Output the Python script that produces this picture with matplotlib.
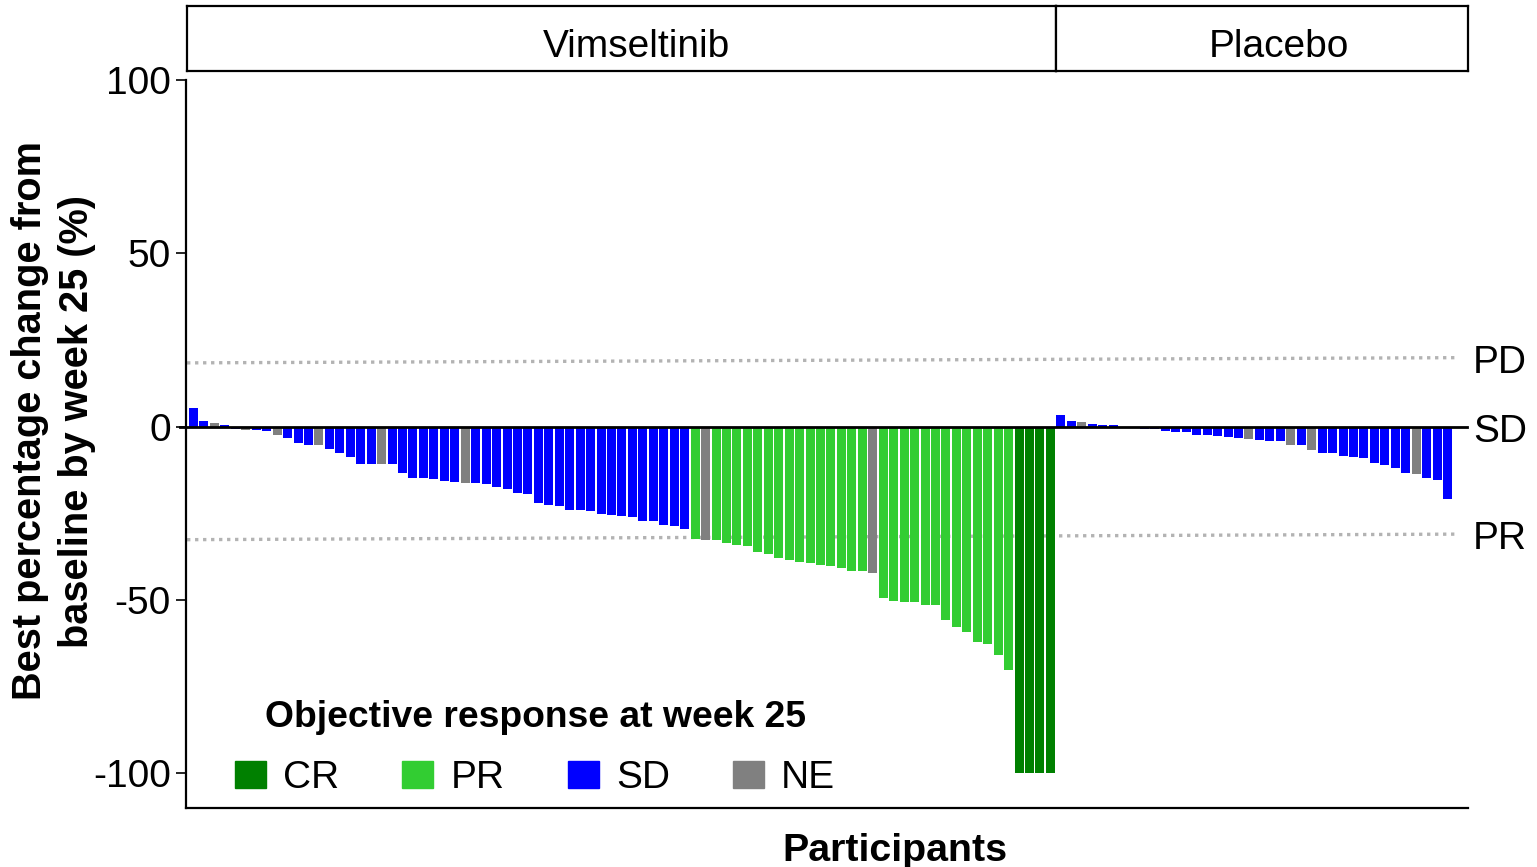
# Waterfall plot: best percentage change from baseline by week 25
# Vimseltinib vs Placebo, bars coloured by objective response at week 25
#
# exports the figure as out.png

import matplotlib
matplotlib.use("Agg")  # no display
import matplotlib.pyplot as plt
import matplotlib.patches as mpatches
import matplotlib.transforms as mtransforms

plt.rcParams['font.family'] = ['Liberation Sans', 'DejaVu Sans']

# ----------- Data -------------
# best % change per participant (sorted)
vim_change = [
    5.4, 1.6, 1.1, 0.6, -0.6, -1.0, -1.0, -1.3, -2.4, -3.3,
    -4.7, -5.3, -5.3, -6.5, -7.6, -8.8, -10.8, -10.8, -10.8, -10.8,
    -13.4, -14.8, -14.8, -15.1, -15.7, -16.0, -16.3, -16.3, -16.6, -17.4,
    -18.0, -19.2, -19.5, -22.1, -22.6, -22.9, -24.1, -24.1, -24.4, -25.2,
    -25.5, -25.8, -26.1, -27.3, -27.3, -28.4, -28.7, -29.6, -32.5, -32.8,
    -32.8, -33.6, -34.2, -34.5, -36.2, -36.8, -38.0, -38.5, -39.1, -39.4,
    -40.0, -40.3, -40.8, -41.7, -41.7, -42.3, -49.5, -50.4, -50.7, -50.7,
    -51.3, -51.5, -55.9, -57.9, -59.1, -62.2, -62.8, -66.0, -70.3, -100.0,
    -100.0, -100.0, -100.0,
]
vim_response = (
    ['SD', 'SD', 'NE', 'SD', 'SD', 'NE', 'SD', 'SD', 'NE', 'SD',
     'SD', 'SD', 'NE', 'SD', 'SD', 'SD', 'SD', 'SD', 'NE', 'SD',
     'SD', 'SD', 'SD', 'SD', 'SD', 'SD', 'NE']
    + ['SD'] * 21
    + ['PR', 'NE'] + ['PR'] * 15 + ['NE'] + ['PR'] * 13
    + ['CR'] * 4
)

pbo_change = [
    3.4, 1.6, 1.3, 0.8, 0.5, 0.5, 0.0, 0.0, -0.6, -0.6,
    -1.3, -1.5, -1.5, -2.4, -2.4, -2.7, -3.0, -3.3, -3.6, -3.9,
    -4.1, -4.1, -5.3, -5.3, -6.7, -7.6, -7.6, -8.5, -8.8, -9.1,
    -10.5, -11.1, -11.9, -13.4, -13.7, -14.8, -15.4, -20.9,
]
pbo_response = [
    'SD', 'SD', 'NE', 'SD', 'SD', 'SD', 'SD', 'SD', 'SD', 'SD',
    'SD', 'SD', 'SD', 'SD', 'SD', 'SD', 'SD', 'SD', 'NE', 'SD',
    'SD', 'SD', 'NE', 'SD', 'NE', 'SD', 'SD', 'SD', 'SD', 'SD',
    'SD', 'SD', 'SD', 'SD', 'NE', 'SD', 'SD', 'SD',
]

groups = ['Vimseltinib', 'Placebo']
response_levels = ['CR', 'PR', 'SD', 'NE']

# reference lines (start, end) and their labels
pd_line = [18.4, 19.9]
pr_line = [-32.6, -31.0]
ref_labels = ['PD', 'SD', 'PR']

# ----------- Colours -------------
COLORES = {'CR': '#008000', 'PR': '#32CD32', 'SD': '#0000FF', 'NE': '#808080'}
COLOR_REF = '#B3B3B3'

W, H = 1537, 867
FS = 28


def fx(px):
    return px / W


def fy(px):
    return 1 - px / H


fig = plt.figure(figsize=(W / 100, H / 100), dpi=100)

# main panel
ax = fig.add_axes([fx(186), fy(808), fx(1468) - fx(186), fy(80) - fy(808)])

changes = vim_change + pbo_change
responses = vim_response + pbo_response
x = list(range(1, len(changes) + 1))
ax.bar(x, changes, width=0.86, color=[COLORES[r] for r in responses], linewidth=0, zorder=2)

ax.set_xlim(0.28, len(changes) + 1.96)
ax.set_ylim(-110, 100)
ax.set_yticks([100, 50, 0, -50, -100])
ax.set_yticklabels(['100', '50', '0', '-50', '-100'])
ax.set_xticks([])
ax.tick_params(axis='y', length=7.5, width=1.2, labelsize=FS, pad=3.5)

for s in ['top', 'right']:
    ax.spines[s].set_visible(False)
for s in ['left', 'bottom']:
    ax.spines[s].set_linewidth(1.6)

# zero line and dotted PD / PR lines
x_end = len(changes) + 1.9
ax.plot([-0.3, x_end], [0, 0], color='black', linewidth=2.0, clip_on=False, zorder=3)
ax.plot([0.38, len(changes) + 0.7], pd_line, color=COLOR_REF, linewidth=2.4,
        linestyle=(0, (1, 1.4)), dash_capstyle='butt', zorder=1)
ax.plot([0.38, len(changes) + 0.7], pr_line, color=COLOR_REF, linewidth=2.4,
        linestyle=(0, (1, 1.4)), dash_capstyle='butt', zorder=1)

trans = mtransforms.blended_transform_factory(ax.transAxes, ax.transData)
for lab, yv in zip(ref_labels, [pd_line[1], 0, pr_line[1]]):
    ax.annotate(lab, xy=(1, yv), xycoords=trans, xytext=(5, -15),
                textcoords='offset pixels', fontsize=FS, va='baseline', ha='left',
                annotation_clip=False)

# facet strips
n_vim = len(vim_change)
x_split = 186 + (n_vim + 0.5 - 0.28) * (1468 - 186) / (len(changes) + 1.96 - 0.28)
strip_boxes = [(187, x_split), (x_split, 1468)]
strip_text_x = [0.517, 0.541]
for (l, r), name, tx in zip(strip_boxes, groups, strip_text_x):
    sax = fig.add_axes([fx(l), fy(71), fx(r) - fx(l), fy(6) - fy(71)])
    sax.set_xticks([])
    sax.set_yticks([])
    for s in sax.spines.values():
        s.set_linewidth(1.6)
    sax.text(tx, 0.215, name, fontsize=FS, ha='center', va='baseline', transform=sax.transAxes)

# legend
handles = [mpatches.Patch(color=COLORES[r], label=r) for r in response_levels]
leg = ax.legend(handles=handles, ncol=4, loc='lower left',
                bbox_to_anchor=(fx(235), fy(796)), bbox_transform=fig.transFigure,
                frameon=False, fontsize=FS, handlelength=0.8, handleheight=0.72,
                handletextpad=0.44, columnspacing=1.62, borderpad=0, borderaxespad=0,
                labelspacing=0.65, title='Objective response at week 25',
                title_fontproperties={'weight': 'bold', 'size': 26.8})

# axis titles
fig.text(fx(54), fy(421), 'Best percentage change from\nbaseline by week 25 (%)',
         rotation=90, ha='center', va='center', fontsize=28.6, fontweight='bold',
         multialignment='center', linespacing=1.3)
fig.text(fx(895), fy(861), 'Participants', ha='center', va='baseline',
         fontsize=28.4, fontweight='bold')

fig.savefig('out.png', dpi=100)
plt.close(fig)
